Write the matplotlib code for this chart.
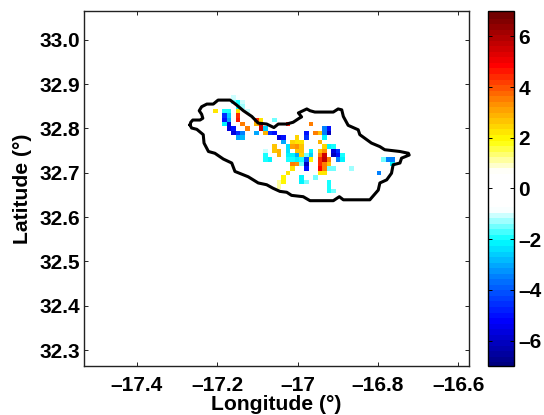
import numpy as np
import matplotlib
matplotlib.use('Agg')
import matplotlib.pyplot as plt
from matplotlib.colors import LinearSegmentedColormap

plt.rcParams['font.family'] = ['Liberation Sans', 'DejaVu Sans']
plt.rcParams['font.weight'] = 'bold'

# coastline
coast_lon = [-17.268,-17.266,-17.261,-17.243,-17.236,-17.239,-17.245,-17.239,-17.226,-17.210,-17.198,-17.168,
             -17.152,-17.135,-17.114,-17.098,-17.077,-17.059,-17.048,-17.027,-17.011,-16.996,-16.990,-16.998,
             -16.977,-16.969,-16.957,-16.911,-16.899,-16.890,-16.886,-16.874,-16.849,-16.845,-16.816,-16.795,
             -16.783,-16.745,-16.724,-16.722,-16.741,-16.745,-16.762,-16.766,-16.778,-16.795,-16.799,-16.820,
             -16.886,-16.896,-16.911,-16.969,-16.986,-17.015,-17.027,-17.044,-17.061,-17.077,-17.098,-17.123,
             -17.156,-17.164,-17.185,-17.206,-17.222,-17.233,-17.235,-17.251,-17.264,-17.268]
coast_lat = [32.808,32.814,32.819,32.819,32.823,32.832,32.840,32.849,32.855,32.855,32.864,32.864,
             32.853,32.840,32.827,32.812,32.810,32.802,32.810,32.810,32.814,32.823,32.826,32.835,
             32.844,32.840,32.837,32.837,32.844,32.842,32.827,32.807,32.797,32.786,32.767,32.759,
             32.752,32.748,32.744,32.740,32.733,32.722,32.718,32.699,32.684,32.677,32.661,32.639,
             32.639,32.646,32.637,32.637,32.646,32.649,32.656,32.658,32.665,32.673,32.677,32.691,
             32.703,32.722,32.731,32.744,32.748,32.767,32.786,32.798,32.801,32.808]

# grid of the field
grid_lon0 = -17.21
grid_dlon = 0.0113
grid_lat0 = 32.8745
grid_dlat = 0.01
n_col = 41
n_row = 22

# nonzero cells, one line per grid row
cell_row = [0,0,
            1,1,1,
            2,2,
            3,3,3,3,3,
            4,4,4,
            5,5,5,5,5,5,
            6,6,6,6,6,6,6,
            7,7,7,7,7,7,7,
            8,8,8,8,8,8,8,8,8,8,8,8,
            9,9,9,9,9,9,9,
            10,10,10,10,10,
            11,11,11,11,11,11,11,11,
            12,12,12,12,12,12,12,12,12,12,12,
            13,13,13,13,13,13,13,13,13,13,13,13,13,
            14,14,14,14,14,14,14,14,14,14,14,14,14,14,14,14,
            15,15,15,15,15,15,15,15,
            16,16,16,16,16,16,16,
            17,17,17,17,
            18,18,18,
            19,19,19,19,19,
            20,20,
            21,21]
cell_col = [4,5,
            4,5,6,
            5,6,
            0,2,3,5,7,
            2,3,5,
            2,3,5,9,10,13,
            2,3,6,9,10,16,21,
            3,4,7,10,11,24,25,
            4,5,6,9,11,12,13,20,22,23,24,25,
            5,6,14,15,18,20,24,
            15,17,18,19,23,
            13,16,17,18,19,24,25,26,
            11,13,14,16,18,19,21,23,24,26,27,
            11,14,16,17,18,19,20,21,23,24,26,27,28,
            11,12,16,17,18,19,20,21,23,24,25,27,28,37,38,39,
            17,18,19,20,23,24,25,39,
            17,20,23,24,25,26,30,
            16,23,24,36,
            15,19,22,
            14,15,19,20,25,
            14,25,
            25,26]
cell_val = [-0.9,-0.8,
            -1.5,-1.8,-1.0,
            -1.8,-1.3,
            2.2,-1.8,-1.8,2.3,-1.0,
            -4.5,-2.5,4.5,
            -5,-3,4.8,4.5,2.3,-1.5,
            -2,-5.5,3.5,3,5.5,4.8,3.7,
            -5.5,-5,3.5,5.5,-2.5,-3.5,-5,
            -5.5,-4.5,-3.5,-3,3,-4.5,-5,-5,3.7,2.8,-3.5,-6,
            -3,-2.8,-5.5,-5,2.6,-4.5,-2,
            -3,2.5,2.3,2.3,3,
            2.8,-2.3,3.2,3.3,2.8,2.6,-2,-1.8,
            -1,2.8,3,-2.3,2.8,2.8,-2,2.8,3.3,-5.5,-4.5,
            -1.8,3,-2,-2,-3,2.6,-1.5,-2.5,3.5,5.5,-6,-5,-1.8,
            -1.9,-2,-1.8,-1.8,-2,-1.8,-4,2,4.5,5.8,3.5,-3.5,-2,-1.5,-3.5,-3.5,
            3.5,3.3,-1.5,-6,4.5,3.7,2.8,-2,
            2.3,-5,5,3.7,-1.5,-1.5,-1.2,
            2.2,2.3,2.2,-3.5,
            2.1,-2,-1.5,
            1.3,2.1,-2,-1.5,-1.8,
            1.1,-1.8,
            -1.8,-1.5]

x_ticks = [-17.4, -17.2, -17.0, -16.8, -16.6]
x_labels = ['\u201317.4', '\u201317.2', '\u201317', '\u201316.8', '\u201316.6']
y_ticks = [32.3, 32.4, 32.5, 32.6, 32.7, 32.8, 32.9, 33.0]
y_labels = ['32.3', '32.4', '32.5', '32.6', '32.7', '32.8', '32.9', '33.0']
cb_ticks = [-6, -4, -2, 0, 2, 4, 6]
cb_labels = ['\u20136', '\u20134', '\u20132', '0', '2', '4', '6']

# jet with a white middle
vmax = 7.0
nodes = [(-7.0, (0, 0, 0.5)), (-5.2, (0, 0, 1)), (-3.6, (0, 0.45, 1)), (-2.0, (0, 1, 1)),
         (-0.75, (1, 1, 1)), (0.75, (1, 1, 1)), (2.0, (1, 1, 0)), (3.5, (1, 0.55, 0)),
         (5.0, (1, 0, 0)), (7.0, (0.45, 0, 0))]
cmap = LinearSegmentedColormap.from_list('jetwhite', [((v + vmax) / (2 * vmax), c) for v, c in nodes], N=64)

field = np.full((n_row, n_col), np.nan)
field[cell_row, cell_col] = cell_val
lon_edges = grid_lon0 + grid_dlon * np.arange(n_col + 1)
lat_edges = grid_lat0 - grid_dlat * np.arange(n_row + 1)

fig = plt.figure(figsize=(5.44, 4.15), dpi=100)
ax = fig.add_axes([84 / 544, 49 / 415, 385 / 544, 355 / 415])
mesh = ax.pcolormesh(lon_edges, lat_edges, field, cmap=cmap, vmin=-vmax, vmax=vmax)
ax.plot(coast_lon, coast_lat, color='k', lw=2.2, solid_joinstyle='round')
ax.set_xlim(-17.532, -16.573)
ax.set_ylim(32.264, 33.065)
ax.set_xticks(x_ticks)
ax.set_xticklabels(x_labels)
ax.set_yticks(y_ticks)
ax.set_yticklabels(y_labels)
ax.tick_params(direction='in', top=True, right=True, length=3, width=0.7, labelsize=15, color='#222222')
ax.tick_params(axis='x', pad=7.5)
ax.tick_params(axis='y', pad=3)
ax.set_xlabel('Longitude (\u00b0)', fontsize=15.2, fontweight='bold', labelpad=0)
ax.set_ylabel('Latitude (\u00b0)', fontsize=15.2, fontweight='bold', labelpad=5.5)
for s in ax.spines.values():
    s.set_linewidth(1.0)
    s.set_color('#222222')

cax = fig.add_axes([488 / 544, 49 / 415, 26 / 544, 355 / 415])
cb = fig.colorbar(mesh, cax=cax)
cb.solids.set_edgecolor('face')
cb.set_ticks(cb_ticks)
cb.set_ticklabels(cb_labels)
cb.ax.tick_params(direction='in', left=True, right=True, length=3, width=0.7, labelsize=15, pad=3)
cb.outline.set_linewidth(1.0)

plt.savefig('out.png', dpi=100)
